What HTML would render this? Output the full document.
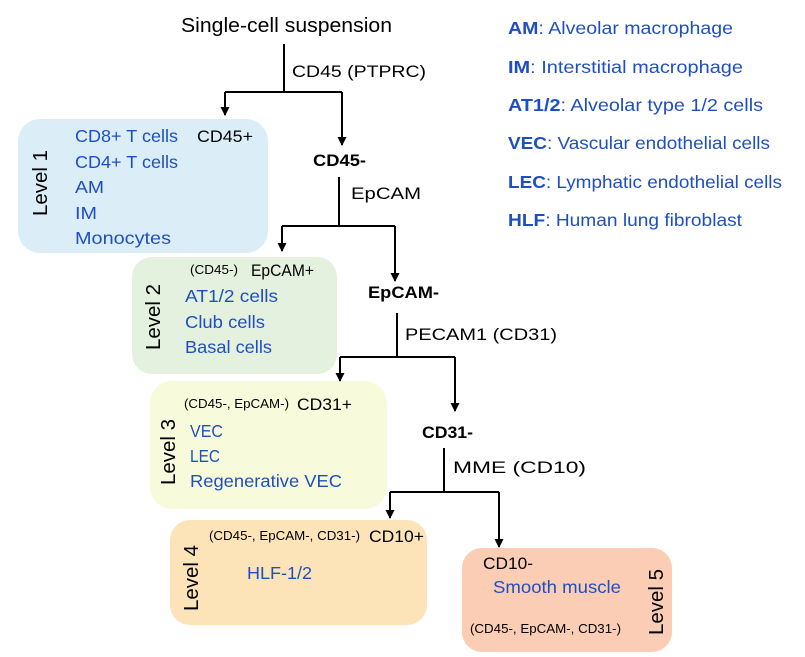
<!DOCTYPE html>
<html><head><meta charset="utf-8"><style>
html,body{margin:0;padding:0;background:#fff;}
svg{display:block;font-family:"Liberation Sans",sans-serif;}
.b{fill:#1f4fbf;font-size:17.5px;}
.k{fill:#000;font-size:17px;}
.s{fill:#000;font-size:12.5px;}
.lv{fill:#000;font-size:20px;}
.bd{font-weight:bold;}
</style></head><body>
<svg width="805" height="657" viewBox="0 0 805 657" xmlns="http://www.w3.org/2000/svg">
<defs><marker id="a" markerWidth="9" markerHeight="9" refX="4.5" refY="8" orient="0" markerUnits="userSpaceOnUse"><path d="M0,0 L9,0 L4.5,9 Z" fill="#000"/></marker></defs>
<rect x="18" y="119" width="250" height="134" rx="22" fill="#dbeef8"/>
<rect x="132" y="257" width="205" height="117" rx="20" fill="#e3f1de"/>
<rect x="150" y="381" width="237" height="128" rx="22" fill="#f8fbdb"/>
<rect x="170" y="520" width="257" height="105" rx="20" fill="#fce4b8"/>
<rect x="462" y="548" width="210" height="104" rx="20" fill="#fbcdb4"/>
<g stroke="#000" stroke-width="2" fill="none">
<path d="M284,44 V92"/><path d="M225,92 H342"/>
<path d="M225,92 V115" marker-end="url(#a)"/><path d="M342,92 V145" marker-end="url(#a)"/>
<path d="M339,177 V226"/><path d="M282,226 H395"/>
<path d="M282,226 V251" marker-end="url(#a)"/><path d="M395,226 V281" marker-end="url(#a)"/>
<path d="M397,313 V357"/><path d="M340,357 H455"/>
<path d="M340,357 V381" marker-end="url(#a)"/><path d="M455,357 V411" marker-end="url(#a)"/>
<path d="M444,448 V492"/><path d="M390,492 H499"/>
<path d="M390,492 V518" marker-end="url(#a)"/><path d="M499,492 V547" marker-end="url(#a)"/>
</g>
<text x="181" y="32" font-size="20" textLength="211" lengthAdjust="spacingAndGlyphs">Single-cell suspension</text>
<text x="292" y="77" class="k" font-size="19" textLength="134" lengthAdjust="spacingAndGlyphs">CD45 (PTPRC)</text>
<text x="313" y="166" class="k bd" textLength="53" lengthAdjust="spacingAndGlyphs">CD45-</text>
<text x="351" y="199" class="k" font-size="19" textLength="70" lengthAdjust="spacingAndGlyphs">EpCAM</text>
<text x="368" y="298" class="k bd" textLength="71" lengthAdjust="spacingAndGlyphs">EpCAM-</text>
<text x="405" y="340" class="k" font-size="19" textLength="152" lengthAdjust="spacingAndGlyphs">PECAM1 (CD31)</text>
<text x="422" y="438" class="k bd" textLength="51" lengthAdjust="spacingAndGlyphs">CD31-</text>
<text x="453" y="473" class="k" font-size="19" textLength="133" lengthAdjust="spacingAndGlyphs">MME (CD10)</text>
<text class="lv" transform="translate(47,216) rotate(-90)" textLength="66" lengthAdjust="spacingAndGlyphs">Level 1</text>
<text x="75" y="142" class="b" textLength="103" lengthAdjust="spacingAndGlyphs">CD8+ T cells</text>
<text x="197" y="142" class="k" textLength="56" lengthAdjust="spacingAndGlyphs">CD45+</text>
<text x="75" y="168" class="b" textLength="103" lengthAdjust="spacingAndGlyphs">CD4+ T cells</text>
<text x="75" y="193" class="b" textLength="29" lengthAdjust="spacingAndGlyphs">AM</text>
<text x="75" y="219" class="b" textLength="22" lengthAdjust="spacingAndGlyphs">IM</text>
<text x="75" y="244" class="b" textLength="96" lengthAdjust="spacingAndGlyphs">Monocytes</text>
<text class="lv" transform="translate(160,350) rotate(-90)" textLength="66" lengthAdjust="spacingAndGlyphs">Level 2</text>
<text x="190" y="274" class="s" textLength="48" lengthAdjust="spacingAndGlyphs">(CD45-)</text>
<text x="251" y="276" class="k" textLength="63" lengthAdjust="spacingAndGlyphs">EpCAM+</text>
<text x="185" y="302" class="b" textLength="93" lengthAdjust="spacingAndGlyphs">AT1/2 cells</text>
<text x="185" y="328" class="b" textLength="80" lengthAdjust="spacingAndGlyphs">Club cells</text>
<text x="185" y="353" class="b" textLength="87" lengthAdjust="spacingAndGlyphs">Basal cells</text>
<text class="lv" transform="translate(175,485) rotate(-90)" textLength="66" lengthAdjust="spacingAndGlyphs">Level 3</text>
<text x="184" y="408" class="s" textLength="105" lengthAdjust="spacingAndGlyphs">(CD45-, EpCAM-)</text>
<text x="297" y="410" class="k" textLength="55" lengthAdjust="spacingAndGlyphs">CD31+</text>
<text x="190" y="437" class="b" textLength="33" lengthAdjust="spacingAndGlyphs">VEC</text>
<text x="190" y="462" class="b" textLength="30" lengthAdjust="spacingAndGlyphs">LEC</text>
<text x="190" y="487" class="b" textLength="152" lengthAdjust="spacingAndGlyphs">Regenerative VEC</text>
<text class="lv" transform="translate(198,611) rotate(-90)" textLength="66" lengthAdjust="spacingAndGlyphs">Level 4</text>
<text x="209" y="540" class="s" textLength="151" lengthAdjust="spacingAndGlyphs">(CD45-, EpCAM-, CD31-)</text>
<text x="369" y="542" class="k" textLength="55" lengthAdjust="spacingAndGlyphs">CD10+</text>
<text x="247" y="579" class="b" textLength="65" lengthAdjust="spacingAndGlyphs">HLF-1/2</text>
<text class="lv" transform="translate(663,635) rotate(-90)" textLength="66" lengthAdjust="spacingAndGlyphs">Level 5</text>
<text x="483" y="569" class="k" textLength="50" lengthAdjust="spacingAndGlyphs">CD10-</text>
<text x="493" y="593" class="b" textLength="128" lengthAdjust="spacingAndGlyphs">Smooth muscle</text>
<text x="470" y="633" class="s" textLength="151" lengthAdjust="spacingAndGlyphs">(CD45-, EpCAM-, CD31-)</text>
<g class="b" style="font-size:17.5px">
<text x="508" y="34" textLength="225" lengthAdjust="spacingAndGlyphs"><tspan class="bd">AM</tspan>: Alveolar macrophage</text>
<text x="508" y="73" textLength="235" lengthAdjust="spacingAndGlyphs"><tspan class="bd">IM</tspan>: Interstitial macrophage</text>
<text x="508" y="111" textLength="255" lengthAdjust="spacingAndGlyphs"><tspan class="bd">AT1/2</tspan>: Alveolar type 1/2 cells</text>
<text x="508" y="149" textLength="262" lengthAdjust="spacingAndGlyphs"><tspan class="bd">VEC</tspan>: Vascular endothelial cells</text>
<text x="508" y="188" textLength="274" lengthAdjust="spacingAndGlyphs"><tspan class="bd">LEC</tspan>: Lymphatic endothelial cells</text>
<text x="508" y="226" textLength="234" lengthAdjust="spacingAndGlyphs"><tspan class="bd">HLF</tspan>: Human lung fibroblast</text>
</g>
</svg>
</body></html>
